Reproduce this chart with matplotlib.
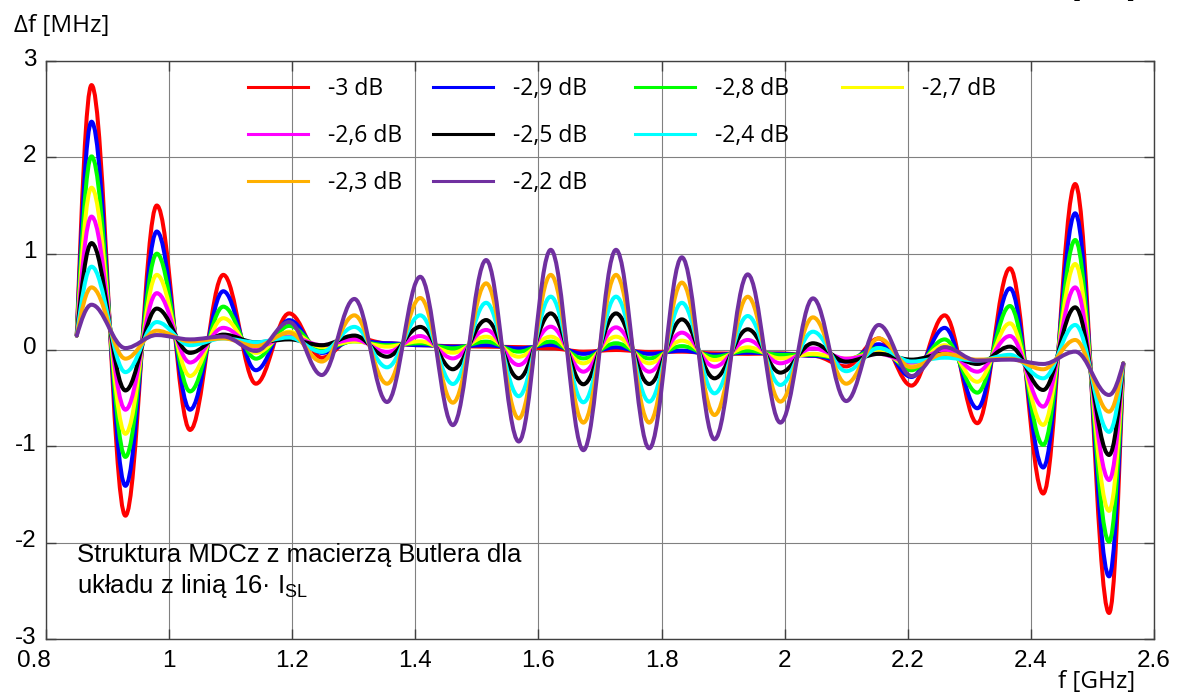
import matplotlib
matplotlib.use("Agg")
import matplotlib.pyplot as plt
import matplotlib.transforms as mtransforms
from matplotlib.path import Path
from matplotlib.patches import PathPatch
from matplotlib.lines import Line2D
from matplotlib.legend import Legend

plt.rcParams['font.family'] = ['Liberation Sans', 'DejaVu Sans']
plt.rcParams['axes.unicode_minus'] = False
plt.rcParams['mathtext.fontset'] = 'custom'
plt.rcParams['mathtext.rm'] = 'Liberation Sans'

# data -----------------------------------------------------
# frequency of start point, every extremum and end point [GHz]
f_ext = [0.850, 0.874, 0.929, 0.980, 1.034, 1.088, 1.141, 1.195, 1.248, 1.301,
         1.354, 1.408, 1.461, 1.515, 1.568, 1.620, 1.673, 1.726, 1.780, 1.833,
         1.886, 1.940, 1.993, 2.046, 2.100, 2.153, 2.206, 2.260, 2.313, 2.366,
         2.420, 2.472, 2.527, 2.550]

labels = ['-3 dB', '-2,9 dB', '-2,8 dB', '-2,7 dB', '-2,6 dB',
          '-2,5 dB', '-2,4 dB', '-2,3 dB', '-2,2 dB']
colors = ['#ff0000', '#0000ff', '#00ff00', '#ffff00', '#ff00ff',
          '#000000', '#00ffff', '#ffb000', '#7030a0']

y_start = 0.15
y_end = -0.14

# delta f [MHz] at each extremum, one list per coupling
df_3_0 = [2.75, -1.72, 1.50, -0.83, 0.78, -0.35, 0.38, -0.08, 0.13, 0.07,
          0.05, 0.04, 0.035, 0.03, 0.017, -0.017, 0.0, -0.02, -0.017, -0.035,
          -0.04, -0.035, -0.06, -0.17, 0.12, -0.37, 0.36, -0.76, 0.848, -1.49,
          1.723, -2.73]
df_2_9 = [2.37, -1.41, 1.23, -0.62, 0.61, -0.21, 0.31, -0.03, 0.10, 0.07,
          0.05, 0.035, 0.05, 0.017, 0.052, -0.04, 0.028, -0.04, -0.007, -0.05,
          -0.028, -0.04, -0.06, -0.12, 0.06, -0.28, 0.23, -0.605, 0.64, -1.22,
          1.419, -2.35]
df_2_8 = [2.01, -1.11, 1.00, -0.43, 0.45, -0.09, 0.25, 0.01, 0.09, 0.05,
          0.07, 0.017, 0.087, -0.017, 0.087, -0.087, 0.07, -0.087, 0.04, -0.07,
          -0.007, -0.05, -0.05, -0.10, 0.02, -0.21, 0.11, -0.443, 0.457, -0.986,
          1.142, -1.99]
df_2_7 = [1.685, -0.87, 0.78, -0.27, 0.33, -0.03, 0.19, 0.03, 0.09, 0.035,
          0.09, -0.028, 0.138, -0.07, 0.138, -0.138, 0.138, -0.138, 0.097, -0.104,
          0.028, -0.087, -0.04, -0.09, -0.02, -0.17, 0.05, -0.33, 0.277, -0.778,
          0.893, -1.67]
df_2_6 = [1.385, -0.62, 0.59, -0.13, 0.23, 0.03, 0.14, 0.05, 0.11, -0.02,
          0.145, -0.087, 0.208, -0.156, 0.242, -0.225, 0.235, -0.225, 0.18, -0.173,
          0.104, -0.138, 0.017, -0.09, -0.04, -0.13, 0.0, -0.225, 0.145, -0.588,
          0.65, -1.35]
df_2_5 = [1.11, -0.42, 0.43, -0.03, 0.16, 0.08, 0.11, 0.05, 0.15, -0.07,
          0.24, -0.20, 0.311, -0.294, 0.38, -0.356, 0.38, -0.353, 0.318, -0.294,
          0.215, -0.235, 0.07, -0.12, -0.04, -0.10, -0.04, -0.145, 0.035, -0.415,
          0.443, -1.09]
df_2_4 = [0.865, -0.23, 0.29, 0.05, 0.12, 0.08, 0.13, -0.02, 0.24, -0.18,
          0.36, -0.353, 0.49, -0.48, 0.554, -0.543, 0.554, -0.536, 0.49, -0.45,
          0.353, -0.363, 0.19, -0.22, 0.02, -0.12, -0.08, -0.11, -0.05, -0.294,
          0.26, -0.85]
df_2_3 = [0.65, -0.09, 0.20, 0.09, 0.12, 0.04, 0.18, -0.12, 0.36, -0.35,
          0.54, -0.547, 0.692, -0.71, 0.78, -0.754, 0.78, -0.754, 0.70, -0.675,
          0.553, -0.536, 0.339, -0.35, 0.12, -0.18, -0.04, -0.10, -0.09, -0.20,
          0.104, -0.64]
df_2_2 = [0.47, 0.02, 0.155, 0.11, 0.14, -0.01, 0.29, -0.26, 0.53, -0.54,
          0.76, -0.78, 0.934, -0.95, 1.04, -1.04, 1.04, -1.02, 0.962, -0.927,
          0.785, -0.754, 0.536, -0.53, 0.26, -0.27, 0.03, -0.11, -0.10, -0.145,
          -0.017, -0.467]

series = [df_3_0, df_2_9, df_2_8, df_2_7, df_2_6, df_2_5, df_2_4, df_2_3, df_2_2]

x_ticks = [0.8, 1.0, 1.2, 1.4, 1.6, 1.8, 2.0, 2.2, 2.4, 2.6]
x_ticklabels = ['0.8', '1', '1.2', '1.4', '1.6', '1.8', '2', '2.2', '2.4', '2.6']
y_ticks = [-3, -2, -1, 0, 1, 2, 3]
# ----------------------------------------------------------

K = 0.364  # bezier handle for a half wave between extrema


def wave_path(xs, ys):
    verts = [(xs[0], ys[0])]
    codes = [Path.MOVETO]
    n = len(xs)
    for j in range(n - 1):
        x0, y0, x1, y1 = xs[j], ys[j], xs[j + 1], ys[j + 1]
        dx, dy = x1 - x0, y1 - y0
        if j == 0:
            c1 = (x0 + 0.326 * dx, y0 + 0.513 * dy)
        else:
            c1 = (x0 + K * dx, y0)
        if j == n - 2:
            c2 = (x1 - 0.326 * dx, y1 - 0.513 * dy)
        else:
            c2 = (x1 - K * dx, y1)
        verts += [c1, c2, (x1, y1)]
        codes += [Path.CURVE4] * 3
    return Path(verts, codes)


W, H = 1183, 693
fig = plt.figure(figsize=(W / 100, H / 100), dpi=100)
ax = fig.add_axes([46 / W, 1 - 639 / H, 1108 / W, 578 / H])

for vals, col in zip(series, colors):
    ys = [y_start] + vals + [y_end]
    ax.add_patch(PathPatch(wave_path(f_ext, ys), facecolor='none',
                           edgecolor=col, lw=2.9, joinstyle='round',
                           capstyle='round', zorder=3))

ax.set_xlim(0.8, 2.6)
ax.set_ylim(-3, 3)
ax.set_xticks(x_ticks)
ax.set_xticklabels(x_ticklabels)
ax.set_yticks(y_ticks)
ax.set_yticklabels([str(v) for v in y_ticks])
ax.grid(True, color='#808080', lw=0.8)
ax.set_axisbelow(True)
ax.tick_params(direction='in', length=7, width=1, top=True, right=True,
               color='#404040', labelsize=17.5, pad=7)
ax.tick_params(axis='x', pad=8)
for s in ax.spines.values():
    s.set_color('#404040')
    s.set_linewidth(1.0)

# y labels sit a little above their grid lines, first x label left of its tick
up = mtransforms.ScaledTranslation(0, 4 / 100, fig.dpi_scale_trans)
for lab in ax.get_yticklabels():
    lab.set_transform(lab.get_transform() + up)
left = mtransforms.ScaledTranslation(-12 / 100, 0, fig.dpi_scale_trans)
first = ax.get_xticklabels()[0]
first.set_transform(first.get_transform() + left)

# legend, row-major like the original: 4 columns
handles = [Line2D([0], [0], color=c, lw=2.2) for c in colors]
col_x = [248, 433, 635, 842]
col_items = [[0, 4, 7], [1, 5, 8], [2, 6], [3]]
for cx, items in zip(col_x, col_items):
    leg = Legend(ax, [handles[i] for i in items], [labels[i] for i in items],
                 loc='upper left', bbox_to_anchor=(cx / W, 1 - 77 / H),
                 bbox_transform=fig.transFigure, frameon=False,
                 borderpad=0, borderaxespad=0, handlelength=2.6,
                 handletextpad=0.87, labelspacing=1.0,
                 prop={'family': 'Open Sans', 'size': 16.5})
    ax.add_artist(leg)

ax.text(0.028, 0.133, 'Struktura MDCz z macierzą Butlera dla',
        transform=ax.transAxes, fontsize=18.5, va='baseline', zorder=5)
ax.text(0.028, 0.0796, 'układu z linią 16· I$_{\\mathrm{SL}}$',
        transform=ax.transAxes, fontsize=18.5, va='baseline', zorder=5)

fig.text(14 / W, 1 - 31.7 / H, 'Δf [MHz]', family='Open Sans', fontsize=17.5,
         va='baseline', ha='left')
fig.text(1097 / W, 1 - 688 / H, 'f [GHz]', family='Open Sans', fontsize=17.5,
         va='baseline', ha='center')
# the original also shows the foot of a second, cut-off axis label at the top
fig.text(1097 / W, 1 + 3 / H, 'f [GHz]', family='Open Sans', fontsize=17.5,
         va='baseline', ha='center')

fig.savefig('out.png', dpi=100)
